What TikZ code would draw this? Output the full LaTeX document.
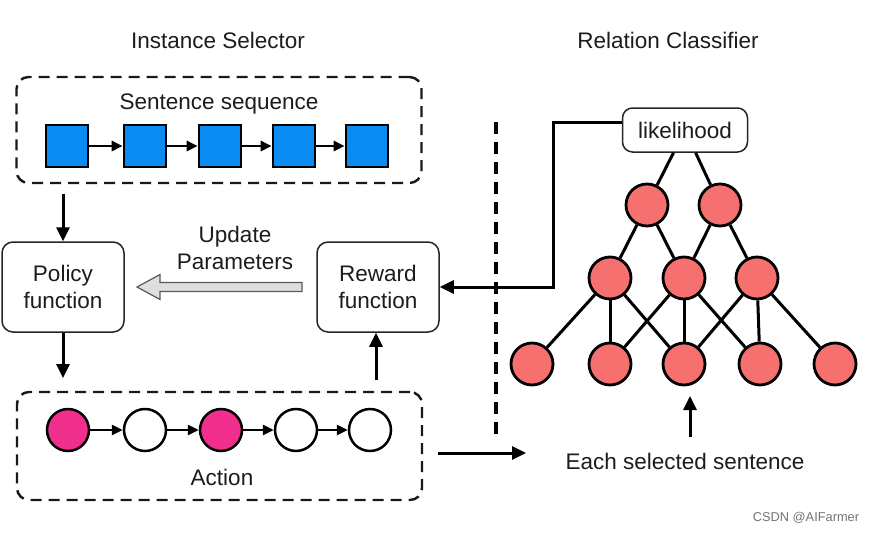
\documentclass[tikz,border=0pt]{standalone}
\usepackage{fontspec}
\setmainfont{Liberation Sans}
\usetikzlibrary{arrows.meta,calc}
\definecolor{sqblue}{RGB}{10,140,242}
\definecolor{actpink}{RGB}{240,46,140}
\definecolor{nnred}{RGB}{246,112,112}
\definecolor{txt}{RGB}{28,28,28}
\begin{document}
\begin{tikzpicture}[x=1pt,y=-1pt,
 font=\fontsize{22.5}{27}\selectfont, text=txt,
 dbox/.style={draw=black!90, line width=2.4pt, dash pattern=on 11pt off 7pt, rounded corners=12pt, minimum width=405pt, minimum height=106pt, inner sep=0},
 fbox/.style={draw=black!85, line width=1.5pt, rounded corners=11pt, fill=white, align=center, minimum width=122pt, minimum height=90pt, inner sep=0},
 sq/.style={draw=black, line width=2.6pt, fill=sqblue, minimum size=42pt, inner sep=0},
 act/.style={circle, draw=black, line width=2.5pt, minimum size=42pt, inner sep=0},
 nn/.style={circle, draw=black, line width=2.8pt, fill=nnred, minimum size=42pt, inner sep=0},
 conn/.style={line width=3pt, -{Triangle[length=14pt,width=13pt]}},
 smallarr/.style={line width=2.6pt, -{Triangle[length=11pt,width=10pt]}},
 nnedge/.style={line width=3pt},
]
\useasboundingbox (0,0) rectangle (875,533);

% titles
\node (t1) at (218,40) {Instance Selector};
\node (t2) at (668,40) {Relation Classifier};

% sentence sequence box
\node[dbox] (seqbox) at (219,130) {};
\node (seqlbl) at (219,104) {Sentence sequence};
\node[sq] (s1) at (67,146) {};
\node[sq] (s2) at (145,146) {};
\node[sq] (s3) at (220,146) {};
\node[sq] (s4) at (294,146) {};
\node[sq] (s5) at (367,146) {};
\draw[smallarr] (s1) -- (s2);
\draw[smallarr] (s2) -- (s3);
\draw[smallarr] (s3) -- (s4);
\draw[smallarr] (s4) -- (s5);

% function boxes
\node[fbox] (policy) at (63,287) {Policy\\function};
\node[fbox] (reward) at (378,287) {Reward\\function};
\node[align=center] (upd) at (235,248) {Update\\Parameters};
\coordinate (hs) at (302,287);
\coordinate (ht) at (137,287);
\draw[draw=black!65, line width=1.2pt, fill=black!13, line join=miter]
  ($(hs)+(0,-4.5)$) -- ($(ht)+(23,-4.5)$) -- ($(ht)+(23,-12.5)$) -- (ht)
  -- ($(ht)+(23,12.5)$) -- ($(ht)+(23,4.5)$) -- ($(hs)+(0,4.5)$) -- cycle;

% action box
\node[dbox, minimum height=108pt] (actbox) at (219.5,446) {};
\node (actlbl) at (222,477) {Action};
\node[act, fill=actpink] (a1) at (68,430) {};
\node[act, fill=white] (a2) at (145,430) {};
\node[act, fill=actpink] (a3) at (221,430) {};
\node[act, fill=white] (a4) at (296,430) {};
\node[act, fill=white] (a5) at (370,430) {};
\draw[smallarr] (a1) -- (a2);
\draw[smallarr] (a2) -- (a3);
\draw[smallarr] (a3) -- (a4);
\draw[smallarr] (a4) -- (a5);

% vertical connectors on left
\draw[conn] ($(policy.north |- seqbox.south)+(0,10)$) -- (policy.north);
\coordinate (pa) at (63,378);
\draw[conn] (policy.south) -- (pa);
\coordinate (ra) at (376,380);
\draw[conn] (ra) -- (reward.south -| ra);

% relation classifier
\node[fbox, minimum width=125pt, minimum height=44pt, rounded corners=10pt] (lik) at (685,130) {likelihood};
\node[nn] (T1) at (647,205) {};
\node[nn] (T2) at (720,205) {};
\node[nn] (M1) at (610,278) {};
\node[nn] (M2) at (684,278) {};
\node[nn] (M3) at (757,278) {};
\node[nn] (B1) at (532,364) {};
\node[nn] (B2) at (610,364) {};
\node[nn] (B3) at (684,364) {};
\node[nn] (B4) at (760,364) {};
\node[nn] (B5) at (835,364) {};
\draw[nnedge] (lik) -- (T1);
\draw[nnedge] (lik) -- (T2);
\draw[nnedge] (T1) -- (M1);
\draw[nnedge] (T1) -- (M2);
\draw[nnedge] (T2) -- (M2);
\draw[nnedge] (T2) -- (M3);
\draw[nnedge] (M1) -- (B1);
\draw[nnedge] (M1) -- (B2);
\draw[nnedge] (M1) -- (B3);
\draw[nnedge] (M2) -- (B2);
\draw[nnedge] (M2) -- (B3);
\draw[nnedge] (M2) -- (B4);
\draw[nnedge] (M3) -- (B3);
\draw[nnedge] (M3) -- (B4);
\draw[nnedge] (M3) -- (B5);

% likelihood to reward
\coordinate (lk) at (553,287);
\draw[conn] ([yshift=8pt]lik.west) -| (lk) -- (reward.east);

% dashed separator
\coordinate (d1) at (496,122);
\coordinate (d2) at (496,435);
\draw[line width=3.4pt, dash pattern=on 12pt off 8pt] (d1) -- (d2);

% action to classifier
\coordinate (ab) at (526,453);
\draw[conn] (actbox.east |- ab) ++(15,0) -- (ab);

% each selected sentence
\node (each) at (685,461) {Each selected sentence};
\coordinate (e1) at (690,437);
\coordinate (e2) at (690,396);
\draw[conn] (e1) -- (e2);

% watermark
\node[text=black!55, font=\fontsize{12.8}{15}\selectfont] (csdn) at (806,518) {CSDN @AIFarmer};
\end{tikzpicture}
\end{document}
